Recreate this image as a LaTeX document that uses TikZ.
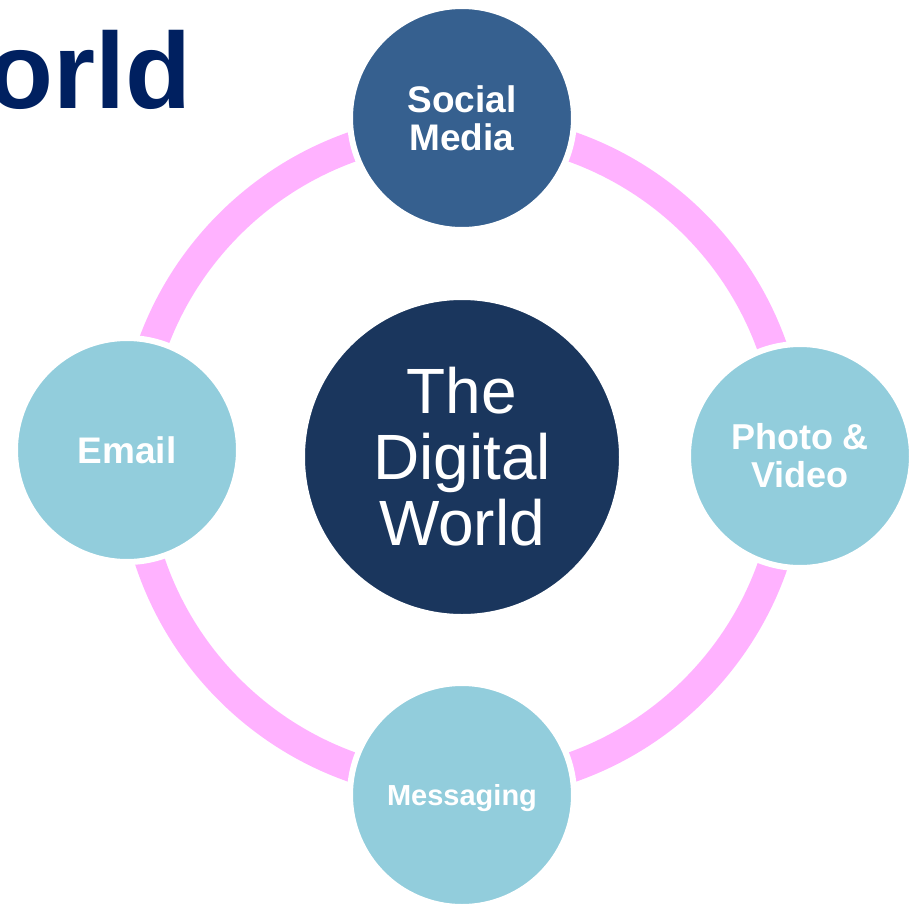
\documentclass[tikz,border=0pt]{standalone}
\usepackage{fontspec}
\setmainfont{Liberation Sans}
\definecolor{titleblue}{HTML}{002060}
\definecolor{hubblue}{HTML}{1A365D}
\definecolor{socialblue}{HTML}{36608F}
\definecolor{lightblue}{HTML}{92CDDC}
\definecolor{ringpink}{HTML}{FFB2FF}
\begin{document}
\begin{tikzpicture}[x=1pt,y=-1pt,
  bubble/.style={circle,draw=white,line width=6pt,text=white,align=center,
    minimum size=224pt,inner sep=0pt},
  ring/.style={draw=ringpink,line width=30pt}]
\useasboundingbox (0,0) rectangle (922,908);
\node [anchor=base east,inner sep=0pt,text=titleblue,
  font=\fontsize{108}{110}\selectfont\bfseries] (title) at (192,108) {orld};
\coordinate (mid) at (462,457);
\draw [ring] (mid) circle (329pt);
\node [bubble,fill=hubblue,minimum size=320pt,
  font=\fontsize{64}{66}\selectfont] (hub) at (mid) {The\\Digital\\World};
\node [bubble,fill=socialblue,font=\fontsize{37}{38}\selectfont\bfseries]
  (social) at (462,118) {Social\\Media};
\node [bubble,fill=lightblue,font=\fontsize{36}{38}\selectfont\bfseries]
  (photo) at (800,456) {Photo \&\\Video};
\node [bubble,fill=lightblue,font=\fontsize{37}{38}\selectfont\bfseries]
  (email) at (127,450) {Email};
\node [bubble,fill=lightblue,text depth=0pt,
  font=\fontsize{29}{30}\selectfont\bfseries] (msg) at (462,795) {Messaging};
\end{tikzpicture}
\end{document}
